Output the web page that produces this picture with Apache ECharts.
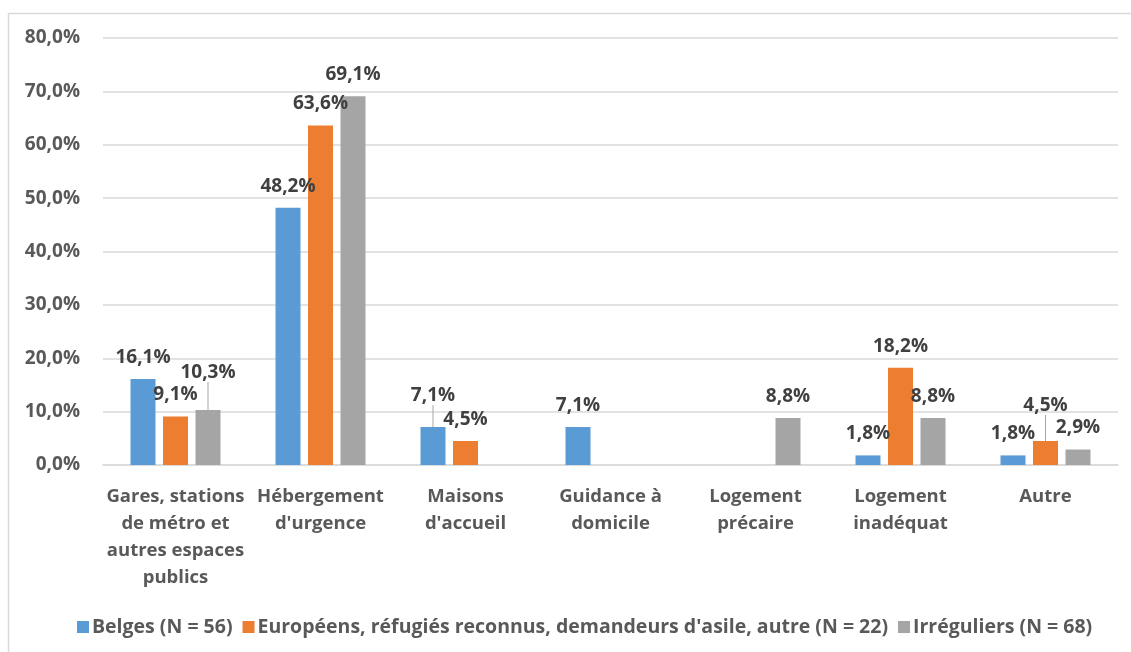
<!DOCTYPE html>
<html>
<head>
<meta charset="utf-8">
<script src="https://cdn.jsdelivr.net/npm/echarts@6/dist/echarts.min.js"></script>
<style>
  html, body { margin: 0; padding: 0; background: #ffffff; }
  #chart { width: 1131px; height: 652px; }
</style>
</head>
<body>
<div id="chart"></div>
<script>
// Lieux de séjour selon le statut (en %)
const categories = [
  'Gares, stations\nde métro et\nautres espaces\npublics',
  'Hébergement\nd\'urgence',
  'Maisons\nd\'accueil',
  'Guidance à\ndomicile',
  'Logement\nprécaire',
  'Logement\ninadéquat',
  'Autre'
];
const seriesNames = [
  'Belges (N = 56)',
  'Européens, réfugiés reconnus, demandeurs d\'asile, autre (N = 22)',
  'Irréguliers (N = 68)'
];
const belges = [16.1, 48.2, 7.1, 7.1, null, 1.8, 1.8];
const europeens = [9.1, 63.6, 4.5, null, null, 18.2, 4.5];
const irreguliers = [10.3, 69.1, null, null, 8.8, 8.8, 2.9];
const yTicks = { min: 0, max: 80, interval: 10 };

const colors = ['#5b9bd5', '#ed7d31', '#a5a5a5'];
const fontFamily = '"Open Sans", "DejaVu Sans", sans-serif';

// labels lifted above their bar, joined to it by a thin guide line
const liftedLabels = { '0-2': -10, '1-6': -14, '2-0': -16 };

const fmt = v => v.toFixed(1).replace('.', ',') + '%';

function makeSeries(name, values, idx) {
  const data = values.map((v, i) => {
    const lifted = liftedLabels[idx + '-' + i];
    return lifted ? { value: v, labelLine: { show: true } } : v;
  });
  return {
    name: name,
    type: 'bar',
    data: data,
    barWidth: 25,
    barGap: '30%',
    itemStyle: { color: colors[idx] },
    label: {
      show: true,
      position: 'top',
      distance: 12,
      fontFamily: fontFamily,
      fontWeight: 'bold',
      fontSize: 19,
      color: '#404040',
      formatter: p => (p.value == null ? '' : fmt(p.value))
    },
    labelLine: {
      show: false,
      lineStyle: { color: '#a6a6a6', width: 1 }
    },
    labelLayout: function (p) {
      const dy = liftedLabels[p.seriesIndex + '-' + p.dataIndex];
      return dy ? { dy: dy } : {};
    }
  };
}

const chart = echarts.init(document.getElementById('chart'), null, { renderer: 'canvas' });
chart.setOption({
  animation: false,
  color: colors,
  graphic: [{
    type: 'rect',
    shape: { x: 8.5, y: 13.5, width: 1140, height: 660 },
    style: { fill: 'none', stroke: '#d9d9d9', lineWidth: 1.5 },
    silent: true
  }],
  grid: { left: 103, right: 13, top: 38, bottom: 187, containLabel: false },
  legend: {
    bottom: 10,
    left: 72,
    itemWidth: 12,
    itemHeight: 12,
    itemGap: 10,
    icon: 'rect',
    textStyle: {
      fontFamily: fontFamily,
      fontWeight: 'bold',
      fontSize: 19.5,
      color: '#595959',
      padding: [0, 0, 0, -2]
    },
    data: seriesNames
  },
  xAxis: {
    type: 'category',
    data: categories,
    axisLine: { lineStyle: { color: '#d9d9d9', width: 1.5 } },
    axisTick: { show: false },
    axisLabel: {
      interval: 0,
      margin: 18,
      fontFamily: fontFamily,
      fontWeight: 'bold',
      fontSize: 18.5,
      lineHeight: 27,
      color: '#595959',
      verticalAlign: 'top'
    }
  },
  yAxis: {
    type: 'value',
    min: yTicks.min,
    max: yTicks.max,
    interval: yTicks.interval,
    axisLine: { show: false },
    axisTick: { show: false },
    splitLine: { lineStyle: { color: '#d9d9d9', width: 1.5 } },
    axisLabel: {
      margin: 23,
      fontFamily: fontFamily,
      fontWeight: 'bold',
      fontSize: 19,
      color: '#595959',
      formatter: v => fmt(v)
    }
  },
  series: [
    makeSeries(seriesNames[0], belges, 0),
    makeSeries(seriesNames[1], europeens, 1),
    makeSeries(seriesNames[2], irreguliers, 2)
  ]
});
</script>
</body>
</html>
